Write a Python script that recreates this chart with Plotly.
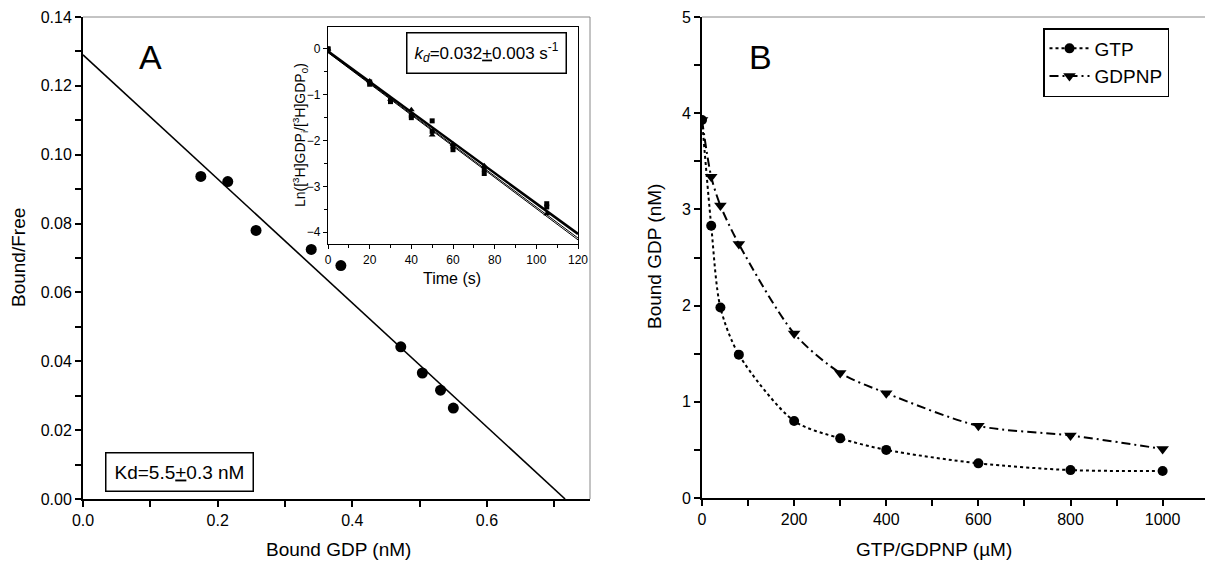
import plotly.graph_objects as go

W, H = 1205, 569
FONT = "Liberation Sans, Arial, Helvetica, sans-serif"

# ---- Panel A: Scatchard data ----
bound_gdp = [0.175, 0.215, 0.257, 0.339, 0.383, 0.472, 0.504, 0.531, 0.550]
bound_free = [0.0937, 0.0922, 0.0780, 0.0725, 0.0678, 0.0442, 0.0366, 0.0316, 0.0264]
fitA_x = [0.0, 0.716]
fitA_y = [0.129, 0.0]

# ---- Inset: dissociation kinetics ----
time_s = [0, 20, 30, 40, 50, 60, 75, 105]
ln_rep1 = [0.0, -0.72, -1.12, -1.45, -1.57, -2.12, -2.72, -3.38]
ln_rep2 = [0.0, -0.77, -1.15, -1.50, -1.80, -2.20, -2.62, -3.45]
ln_rep3 = [0.0, -0.70, -1.10, -1.33, -1.88, -2.08, -2.55, -3.60]
fit_t = [0, 120]
fit1_y = [-0.05, -4.04]
fit2_y = [-0.07, -4.13]
fit3_y = [-0.08, -4.17]

# ---- Panel B: competition ----
conc_uM = [0, 20, 40, 80, 200, 300, 400, 600, 800, 1000]
gtp_bound = [3.93, 2.83, 1.98, 1.49, 0.80, 0.62, 0.50, 0.36, 0.29, 0.28]
gdpnp_bound = [3.93, 3.34, 3.04, 2.64, 1.71, 1.30, 1.09, 0.75, 0.65, 0.51]


def px(x):
    return x / W


def py(y):
    return 1 - y / H


fig = go.Figure()

# Panel A
fig.add_trace(go.Scatter(x=fitA_x, y=fitA_y, mode="lines",
                         line=dict(color="black", width=1.6),
                         xaxis="x", yaxis="y", showlegend=False))
fig.add_trace(go.Scatter(x=bound_gdp, y=bound_free, mode="markers",
                         marker=dict(symbol="circle", size=11, color="black"),
                         xaxis="x", yaxis="y", showlegend=False))

# Inset
for yy, w in [(fit2_y, 1.0), (fit3_y, 1.0), (fit1_y, 2.6)]:
    fig.add_trace(go.Scatter(x=fit_t, y=yy, mode="lines",
                             line=dict(color="black", width=w),
                             xaxis="x2", yaxis="y2", showlegend=False))
fig.add_trace(go.Scatter(x=time_s, y=ln_rep1, mode="markers",
                         marker=dict(symbol="square", size=5, color="black"),
                         xaxis="x2", yaxis="y2", showlegend=False))
fig.add_trace(go.Scatter(x=time_s, y=ln_rep2, mode="markers",
                         marker=dict(symbol="square", size=5, color="black"),
                         xaxis="x2", yaxis="y2", showlegend=False))
fig.add_trace(go.Scatter(x=time_s, y=ln_rep3, mode="markers",
                         marker=dict(symbol="triangle-up", size=6, color="black"),
                         xaxis="x2", yaxis="y2", showlegend=False))

# Panel B
fig.add_trace(go.Scatter(x=conc_uM, y=gtp_bound, mode="lines+markers", name="GTP",
                         line=dict(color="black", width=2, dash="3px,3px", shape="spline", smoothing=0.8),
                         marker=dict(symbol="circle", size=10, color="black"),
                         xaxis="x3", yaxis="y3"))
fig.add_trace(go.Scatter(x=conc_uM, y=gdpnp_bound, mode="lines+markers", name="GDPNP",
                         line=dict(color="black", width=2, dash="9px,4px,2px,4px", shape="spline", smoothing=0.8),
                         marker=dict(symbol="triangle-down", size=11, color="black"),
                         xaxis="x3", yaxis="y3"))

tickfont = dict(family=FONT, size=16, color="black")
small_tick = dict(family=FONT, size=12, color="black")

common = dict(showgrid=False, zeroline=False, showline=True, linecolor="black",
              ticks="outside", tickcolor="black", ticklen=6, tickwidth=1.5,
              automargin=False)

# Plot-area geometry (pixels)
A_l, A_r, A_t, A_b = 83, 590, 17, 499
I_l, I_r, I_t, I_b = 328, 578, 27, 244
B_l, B_r, B_t, B_b = 702, 1205, 17, 498

fig.update_layout(
    width=W, height=H,
    margin=dict(l=0, r=0, t=0, b=0, autoexpand=False),
    paper_bgcolor="white", plot_bgcolor="white",
    font=dict(family=FONT, color="black"),
    xaxis=dict(domain=[px(A_l), px(A_r)], range=[0, 0.753], dtick=0.2, tickformat=".1f",
               minor=dict(dtick=0.1, ticks="outside", ticklen=6, tickcolor="black", tickwidth=1.5),
               linewidth=2, tickfont=tickfont, anchor="y", **common),
    yaxis=dict(domain=[py(A_b), py(A_t)], range=[0, 0.14], dtick=0.02, tickformat=".2f",
               minor=dict(dtick=0.01, ticks="outside", ticklen=6, tickcolor="black", tickwidth=1.5),
               linewidth=2, tickfont=tickfont, anchor="x", **common),
    xaxis2=dict(domain=[px(I_l), px(I_r)], range=[0, 120], dtick=20,
                minor=dict(dtick=10, ticks="outside", ticklen=3, tickcolor="black", tickwidth=1),
                linewidth=1.3, tickfont=small_tick, anchor="y2", mirror=True, automargin=False,
                showgrid=False, zeroline=False, showline=True, linecolor="black",
                ticks="outside", tickcolor="black", ticklen=4, tickwidth=1),
    yaxis2=dict(domain=[py(I_b), py(I_t)], range=[-4.26, 0.48], dtick=1,
                minor=dict(dtick=0.5, ticks="outside", ticklen=3, tickcolor="black", tickwidth=1),
                linewidth=1.3, tickfont=small_tick, anchor="x2", mirror=True, automargin=False,
                showgrid=False, zeroline=False, showline=True, linecolor="black",
                ticks="outside", tickcolor="black", ticklen=4, tickwidth=1),
    xaxis3=dict(domain=[px(B_l), px(B_r)], range=[0, 1092], dtick=200,
                minor=dict(dtick=100, ticks="outside", ticklen=6, tickcolor="black", tickwidth=1.5),
                linewidth=2, tickfont=tickfont, anchor="y3", **common),
    yaxis3=dict(domain=[py(B_b), py(B_t)], range=[0, 5], dtick=1,
                minor=dict(dtick=0.5, ticks="outside", ticklen=6, tickcolor="black", tickwidth=1.5),
                linewidth=2, tickfont=tickfont, anchor="x3", **common),
    legend=dict(x=px(1043), y=py(28), xanchor="left", yanchor="top",
                bordercolor="black", borderwidth=1.5, bgcolor="white",
                font=dict(family=FONT, size=19, color="black"),
                itemwidth=40, tracegroupgap=2),
)

# Thin grey frame lines (top / right) like the original
shapes = [
    dict(type="line", xref="paper", yref="paper", x0=px(A_l), x1=px(A_r), y0=py(A_t), y1=py(A_t),
         line=dict(color="#888888", width=1)),
    dict(type="line", xref="paper", yref="paper", x0=px(A_r), x1=px(A_r), y0=py(A_b), y1=py(A_t),
         line=dict(color="#888888", width=1)),
    dict(type="line", xref="paper", yref="paper", x0=px(B_l), x1=px(B_r), y0=py(B_t), y1=py(B_t),
         line=dict(color="#888888", width=1)),
]
fig.update_layout(shapes=shapes)

ann = []
# Axis titles
ann.append(dict(text="Bound/Free", x=px(18), y=py(258), textangle=-90,
                font=dict(size=19, family=FONT, color="black")))
ann.append(dict(text="Bound GDP (nM)", x=px(338), y=py(549),
                font=dict(size=19, family=FONT, color="black")))
ann.append(dict(text="Bound GDP (nM)", x=px(654), y=py(257), textangle=-90,
                font=dict(size=19, family=FONT, color="black")))
ann.append(dict(text="GTP/GDPNP (\u00b5M)", x=px(934), y=py(549),
                font=dict(size=19, family=FONT, color="black")))
# Inset titles
ann.append(dict(text="Time (s)", x=px(452), y=py(278),
                font=dict(size=16, family=FONT, color="black")))
ann.append(dict(text="Ln([<sup>3</sup>H]GDP<sub>i</sub>/[<sup>3</sup>H]GDP<sub>0</sub>)",
                x=px(300), y=py(135), textangle=-90,
                font=dict(size=14, family=FONT, color="black")))
# Panel letters
ann.append(dict(text="A", x=px(150), y=py(57), font=dict(size=34, family=FONT, color="black")))
ann.append(dict(text="B", x=px(760), y=py(57), font=dict(size=34, family=FONT, color="black")))
# Boxes
ann.append(dict(text="Kd=5.5<u>+</u>0.3 nM", x=px(179), y=py(472),
                font=dict(size=19, family=FONT, color="black"),
                bordercolor="black", borderwidth=1.5, borderpad=8, bgcolor="white"))
ann.append(dict(text="<i>k</i><sub><i>d</i></sub>=0.032<u>+</u>0.003 s<sup>-1</sup>",
                x=px(486), y=py(53),
                font=dict(size=17, family=FONT, color="black"),
                bordercolor="black", borderwidth=1.5, borderpad=7, bgcolor="white"))
for a in ann:
    a.update(xref="paper", yref="paper", showarrow=False, xanchor="center", yanchor="middle")
fig.update_layout(annotations=ann)

fig.write_html("out.html",
               config={"displayModeBar": False},
               post_script="document.body.style.margin='0';document.body.style.padding='0';")
